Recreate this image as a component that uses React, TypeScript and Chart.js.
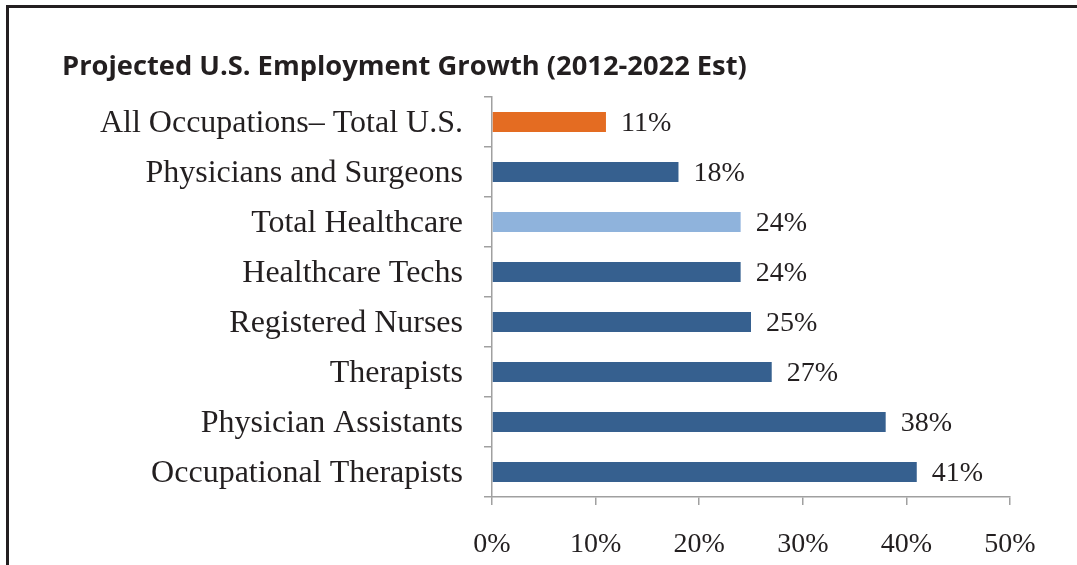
import React, { useEffect, useRef } from "react";
import { Chart, registerables } from "chart.js";

Chart.register(...registerables);

const categories = [
  "All Occupations\u2013 Total U.S.",
  "Physicians and Surgeons",
  "Total Healthcare",
  "Healthcare Techs",
  "Registered Nurses",
  "Therapists",
  "Physician Assistants",
  "Occupational Therapists",
];
const growthValues = [11, 18, 24, 24, 25, 27, 38, 41];
const barColors = [
  "#E46C22",
  "#36608F",
  "#8FB3DC",
  "#36608F",
  "#36608F",
  "#36608F",
  "#36608F",
  "#36608F",
];
const xTickValues = [0, 10, 20, 30, 40, 50];
const titleText = "Projected U.S. Employment Growth (2012-2022 Est)";

const SERIF = "'Liberation Serif', 'Times New Roman', serif";
const TEXT = "#231F20";
const AXIS = "#A0A0A0";

const valueLabels = {
  id: "valueLabels",
  afterDatasetsDraw(chart: any) {
    const ctx = chart.ctx;
    const meta = chart.getDatasetMeta(0);
    ctx.save();
    ctx.font = `28px ${SERIF}`;
    ctx.fillStyle = TEXT;
    ctx.textAlign = "left";
    ctx.textBaseline = "middle";
    meta.data.forEach((bar: any, i: number) => {
      ctx.fillText(`${growthValues[i]}%`, bar.x + 15, bar.y + 2);
    });
    ctx.restore();
  },
};

export default function App() {
  const ref = useRef<HTMLCanvasElement | null>(null);

  useEffect(() => {
    if (!ref.current) return;
    const chart = new Chart(ref.current, {
      type: "bar",
      data: {
        labels: categories,
        datasets: [
          {
            data: growthValues,
            backgroundColor: barColors,
            borderWidth: 0,
            barPercentage: 0.4,
            categoryPercentage: 1,
          },
        ],
      },
      options: {
        indexAxis: "y",
        responsive: false,
        animation: false,
        layout: { padding: { left: 62, right: 67, top: 0, bottom: 0 } },
        plugins: {
          legend: { display: false },
          tooltip: { enabled: false },
          title: {
            display: true,
            text: titleText,
            align: "start",
            color: TEXT,
            font: { family: "'Open Sans'", weight: "bold", size: 27.3, lineHeight: 1.2 },
            padding: { top: 51, bottom: 13.2 },
          },
        },
        scales: {
          x: {
            min: 0,
            max: 50,
            afterBuildTicks: (scale: any) => {
              scale.ticks = xTickValues.map((v) => ({ value: v }));
            },
            afterFit: (scale: any) => {
              scale.height = 68;
            },
            ticks: {
              callback: (v: any) => `${v}%`,
              color: TEXT,
              font: { family: SERIF, size: 28 },
              padding: 23,
              maxRotation: 0,
            },
            grid: {
              drawOnChartArea: false,
              drawTicks: true,
              tickLength: 8,
              color: AXIS,
              lineWidth: 1.5,
            },
            border: { color: AXIS, width: 1.5 },
          },
          y: {
            afterFit: (scale: any) => {
              scale.width = 430;
            },
            ticks: {
              color: TEXT,
              font: { family: SERIF, size: 32 },
              padding: 21,
              labelOffset: 2,
            },
            grid: {
              drawOnChartArea: false,
              drawTicks: true,
              tickLength: 8,
              offset: true,
              color: AXIS,
              lineWidth: 1.5,
            },
            border: { color: AXIS, width: 1.5 },
          },
        },
      },
      plugins: [valueLabels],
    });
    return () => chart.destroy();
  }, []);

  return (
    <div
      style={{
        position: "fixed",
        left: 0,
        top: 0,
        width: 1077,
        height: 565,
        background: "#fff",
        overflow: "hidden",
      }}
    >
      <div
        style={{
          position: "absolute",
          left: 6,
          top: 5,
          right: -10,
          bottom: -10,
          borderTop: "3px solid #231F20",
          borderLeft: "3px solid #231F20",
        }}
      />
      <canvas
        ref={ref}
        width={1077}
        height={565}
        style={{ position: "absolute", left: 0, top: 0, width: 1077, height: 565 }}
      />
    </div>
  );
}
